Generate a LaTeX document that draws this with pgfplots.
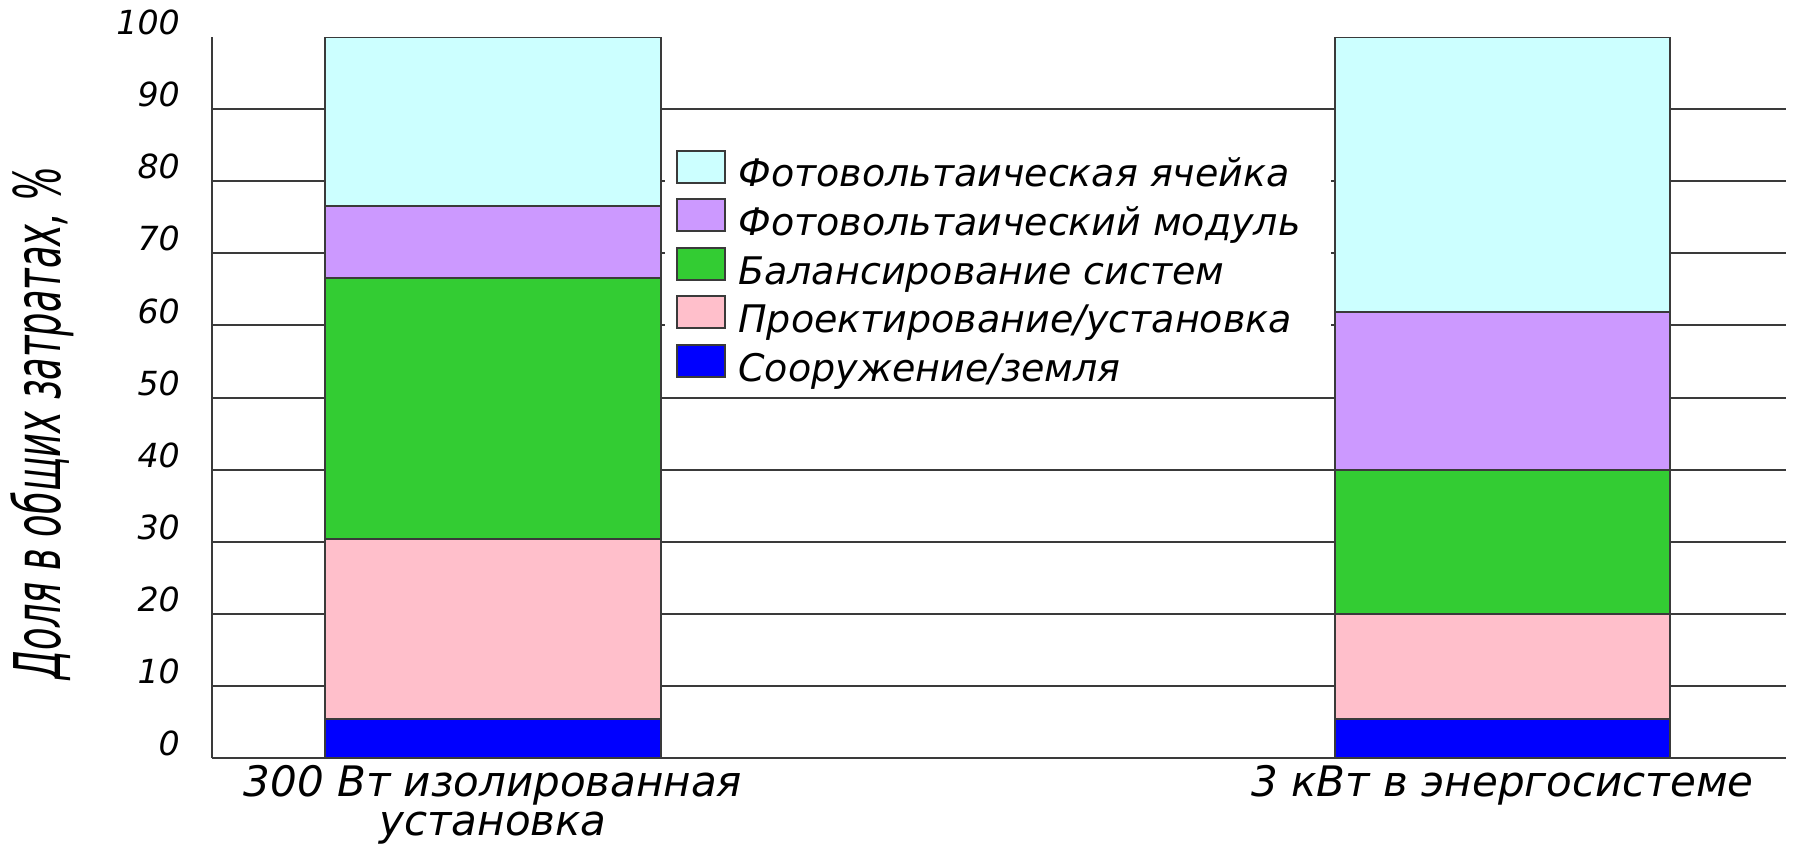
\documentclass[border=0pt]{standalone}
\usepackage{fontspec}
\setmainfont{DejaVu Sans}
\usepackage{graphicx}
\usepackage{pgfplots}
\pgfplotsset{compat=1.18}
\definecolor{cCell}{HTML}{CCFFFF}
\definecolor{cMod}{HTML}{CC99FF}
\definecolor{cBal}{HTML}{33CC33}
\definecolor{cProj}{HTML}{FFBFCB}
\definecolor{cLand}{HTML}{0000FF}
\definecolor{cLine}{HTML}{3A3A3A}
\begin{document}
\begin{tikzpicture}
\useasboundingbox (-53pt,-22.75pt) rectangle (395.75pt,189.5pt);
\begin{axis}[
  width=393.5pt, height=180.25pt, scale only axis,
  xmin=-0.2783, xmax=1.2806, ymin=0, ymax=100,
  ybar stacked, bar width=0.332,
  axis x line*=bottom, axis y line*=left,
  axis line style={cLine, line width=0.6pt, -},
  xtick={0,1},
  xticklabels={{300 Вт изолированная\\установка},{3 кВт в энергосистеме}},
  xticklabel style={align=center, font=\itshape\fontsize{10.5}{9.6}\selectfont, yshift=1.6pt},
  ytick={0,10,...,90}, extra y ticks={100}, extra y tick style={grid=none},
  ymajorgrids, grid style={cLine, line width=0.5pt},
  major tick length=0pt,
  /pgf/number format/assume math mode=true,
  yticklabel style={font=\itshape\fontsize{8.3}{8.3}\selectfont, xshift=-4.5pt, yshift=3.6pt},
  ylabel={\scalebox{1}[1.75]{Доля в общих затратах, \%}},
  ylabel style={font=\itshape\fontsize{9.2}{9.2}\selectfont, at={(axis description cs:-0.1077,0.465)}, anchor=center},
  legend style={at={(axis description cs:0.2945,0.845)}, anchor=north west, draw=none, fill=white,
    inner xsep=0pt, inner ysep=0pt, row sep=0pt,
    font=\itshape\fontsize{9.5}{9.5}\selectfont,
    nodes={inner ysep=0.5pt, inner xsep=3pt, text height=7.5pt, text depth=2.3pt}},
  legend cell align=left,
  reverse legend,
  legend image code/.code={\draw[#1, draw=cLine, line width=0.5pt] (0pt,-1.5pt) rectangle (12pt,6.5pt);},
]
\fill[white] (axis cs:0.17,57) rectangle (axis cs:0.83,86.5);
\addplot[fill=cLand, draw=cLine, line width=0.5pt] coordinates {(0,5.4) (1,5.4)};
\addlegendentry{Сооружение/земля}
\addplot[fill=cProj, draw=cLine, line width=0.5pt] coordinates {(0,25) (1,14.6)};
\addlegendentry{Проектирование/установка}
\addplot[fill=cBal, draw=cLine, line width=0.5pt] coordinates {(0,36.2) (1,20)};
\addlegendentry{Балансирование систем}
\addplot[fill=cMod, draw=cLine, line width=0.5pt] coordinates {(0,10) (1,21.8)};
\addlegendentry{Фотовольтаический модуль}
\addplot[fill=cCell, draw=cLine, line width=0.5pt] coordinates {(0,23.4) (1,38.2)};
\addlegendentry{Фотовольтаическая ячейка}
\end{axis}
\end{tikzpicture}
\end{document}
